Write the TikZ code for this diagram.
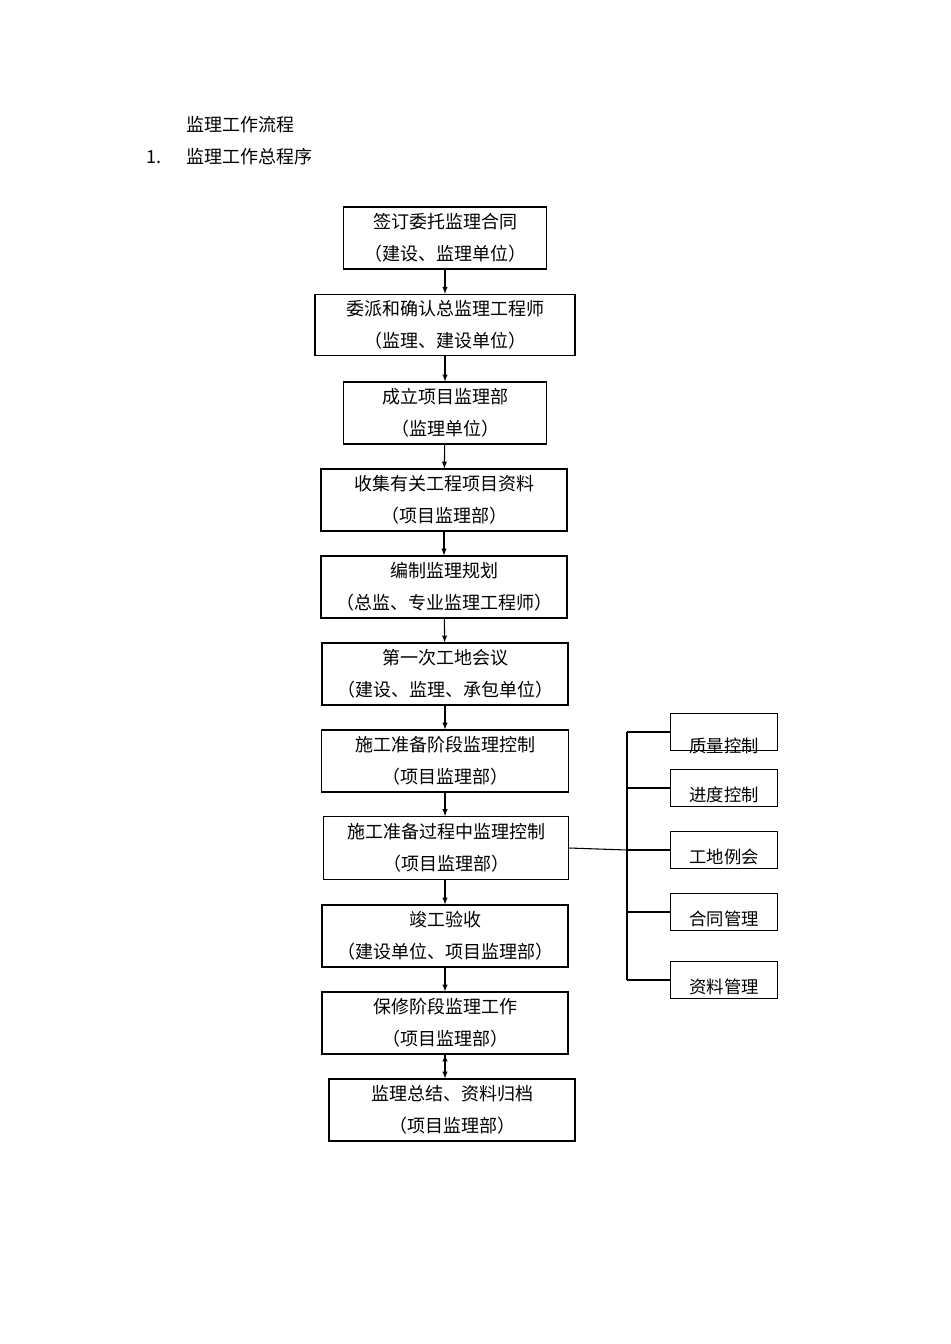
\documentclass[tikz,border=0pt]{standalone}
\usepackage{fontspec}
\setmainfont{Noto Sans CJK SC}
\tikzset{
  stepbox/.style={draw, thick, rectangle, inner sep=0pt, align=center,
    font=\fontsize{13.5}{24}\selectfont},
  sidebox/.style={draw, thick, rectangle, inner sep=0pt, minimum width=80pt, minimum height=28pt,
    font=\fontsize{13}{14}\selectfont, text depth=0pt},
  flow/.style={thick, ->, >=latex}
}
\begin{document}
\begin{tikzpicture}[x=0.75pt, y=-0.75pt]
    \useasboundingbox (0,0) rectangle (950,1344);
    \node[anchor=west, font=\fontsize{13.5}{16}\selectfont] (t1) at (182,125) {监理工作流程};
    \node[anchor=west, font=\fontsize{13.5}{16}\selectfont] (t0) at (142,157) {1.};
    \node[anchor=west, font=\fontsize{13.5}{16}\selectfont] (t2) at (182,157) {监理工作总程序};

    \node[stepbox, minimum width=152pt, minimum height=46.5pt] (b1) at (445,238) {签订委托监理合同\\（建设、监理单位）};
    \node[stepbox, minimum width=195pt, minimum height=46pt] (b2) at (445,325) {委派和确认总监理工程师\\（监理、建设单位）};
    \node[stepbox, minimum width=152pt, minimum height=46.5pt] (b3) at (445,413) {成立项目监理部\\（监理单位）};
    \node[stepbox, minimum width=184.5pt, minimum height=46.5pt] (b4) at (444,500) {收集有关工程项目资料\\（项目监理部）};
    \node[stepbox, minimum width=184.5pt, minimum height=46.5pt] (b5) at (444,587) {编制监理规划\\（总监、专业监理工程师）};
    \node[stepbox, minimum width=184.5pt, minimum height=46.5pt] (b6) at (445,674) {第一次工地会议\\（建设、监理、承包单位）};
    \node[stepbox, minimum width=185pt, minimum height=46.5pt] (b7) at (445,761) {施工准备阶段监理控制\\（项目监理部）};
    \node[stepbox, minimum width=183.5pt, minimum height=47pt] (b8) at (446,848) {施工准备过程中监理控制\\（项目监理部）};
    \node[stepbox, minimum width=184.5pt, minimum height=46.5pt] (b9) at (445,936) {竣工验收\\（建设单位、项目监理部）};
    \node[stepbox, minimum width=184.5pt, minimum height=46.5pt] (b10) at (445,1023) {保修阶段监理工作\\（项目监理部）};
    \node[stepbox, minimum width=184.5pt, minimum height=46.5pt] (b11) at (452,1110) {监理总结、资料归档\\（项目监理部）};

    \draw[flow] (b1) -- (b2);
    \draw[flow] (b2) -- (b3);
    \draw[flow] (b3) -- (b4);
    \draw[flow] (b4) -- (b5);
    \draw[flow] (b5) -- (b6);
    \draw[flow] (b6) -- (b7);
    \draw[flow] (b7) -- (b8.north -| b7);
    \draw[flow] (b8.south -| b9) -- (b9);
    \draw[flow] (b9) -- (b10);
    \draw[flow] (b10.south -| b10) -- (b10.south -| b10) ++(0,0);
    \draw[flow] (b10) -- (b10 |- b11.north);

    \node[sidebox, text height=12pt] (r1) at (724,732) {\raisebox{-9pt}{质量控制}};
    \node[sidebox] (r2) at (724,788) {\raisebox{-9pt}{进度控制}};
    \node[sidebox] (r3) at (724,850) {\raisebox{-9pt}{工地例会}};
    \node[sidebox] (r4) at (724,912) {\raisebox{-9pt}{合同管理}};
    \node[sidebox] (r5) at (724,980) {\raisebox{-9pt}{资料管理}};

    \coordinate (j) at (627,850);
    \draw[thick] (b8.east) -- (j);
    \draw[thick] (j |- r1.west) -- (j |- r5.west);
    \draw[thick] (j |- r1.west) -- (r1.west);
    \draw[thick] (j |- r2.west) -- (r2.west);
    \draw[thick] (j) -- (r3.west);
    \draw[thick] (j |- r4.west) -- (r4.west);
    \draw[thick] (j |- r5.west) -- (r5.west);
\end{tikzpicture}
\end{document}
